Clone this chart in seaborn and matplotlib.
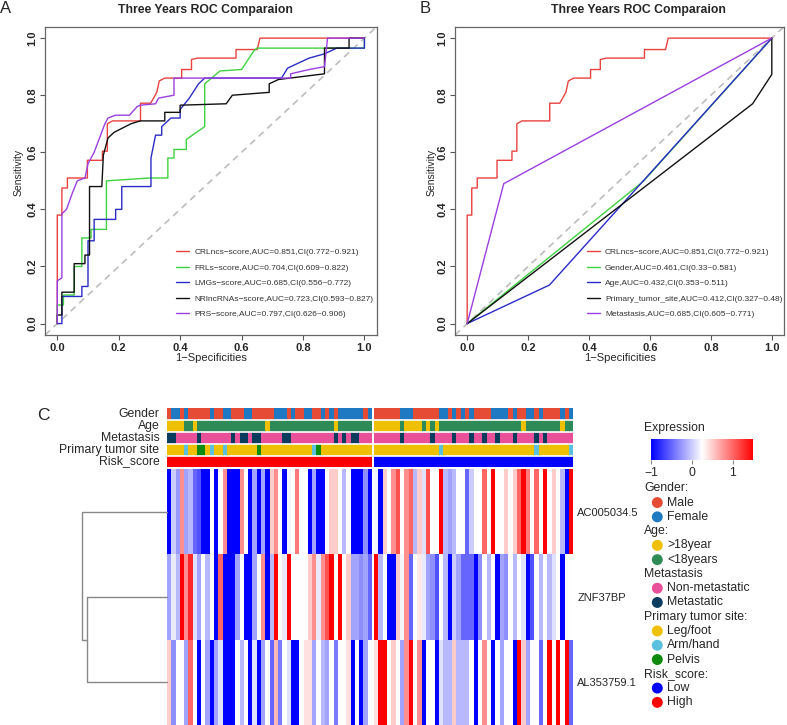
import numpy as np
import pandas as pd
import matplotlib
matplotlib.use("Agg")
import matplotlib.pyplot as plt
from matplotlib.colors import ListedColormap, LinearSegmentedColormap
import seaborn as sns

W, H = 787, 725

# ---------------- ROC curves: (1 - specificity, sensitivity) ----------------
crl_fpr = [0, 0, 0.015, 0.015, 0.033, 0.033, 0.098, 0.098, 0.147, 0.147,
           0.163, 0.163, 0.18, 0.271, 0.271, 0.304, 0.324, 0.332, 0.35, 0.405,
           0.405, 0.437, 0.437, 0.456, 0.582, 0.582, 0.651, 0.66, 1.0]
crl_tpr = [0, 0.38, 0.38, 0.475, 0.475, 0.51, 0.51, 0.572, 0.572, 0.604,
           0.604, 0.70, 0.71, 0.71, 0.772, 0.772, 0.81, 0.85, 0.86, 0.86,
           0.89, 0.89, 0.925, 0.93, 0.93, 0.96, 0.96, 1.0, 1.0]

frl_fpr = [0, 0, 0.02, 0.02, 0.055, 0.055, 0.08, 0.08, 0.11, 0.11,
           0.16, 0.16, 0.30, 0.36, 0.36, 0.38, 0.38, 0.42, 0.42, 0.48,
           0.48, 0.53, 0.60, 0.64, 0.65, 1.0, 1.0]
frl_tpr = [0, 0.065, 0.065, 0.10, 0.10, 0.20, 0.20, 0.30, 0.30, 0.33,
           0.33, 0.50, 0.51, 0.51, 0.58, 0.58, 0.61, 0.61, 0.645, 0.69,
           0.84, 0.885, 0.89, 0.955, 0.965, 0.965, 1.0]

lmg_fpr = [0, 0.015, 0.015, 0.08, 0.08, 0.10, 0.10, 0.12, 0.12, 0.19,
           0.19, 0.21, 0.21, 0.305, 0.305, 0.32, 0.34, 0.34, 0.37, 0.40,
           0.40, 0.43, 0.46, 0.48, 0.73, 0.75, 0.82, 0.87, 0.91, 1.0, 1.0]
lmg_tpr = [0, 0, 0.095, 0.095, 0.13, 0.13, 0.29, 0.29, 0.365, 0.365,
           0.40, 0.40, 0.48, 0.48, 0.58, 0.66, 0.66, 0.69, 0.72, 0.72,
           0.75, 0.79, 0.84, 0.86, 0.86, 0.895, 0.93, 0.945, 0.965, 0.965, 1.0]

nrl_fpr = [0, 0, 0.015, 0.015, 0.055, 0.055, 0.09, 0.09, 0.105, 0.105,
           0.145, 0.15, 0.165, 0.185, 0.24, 0.27, 0.35, 0.35, 0.40, 0.40,
           0.55, 0.57, 0.69, 0.69, 0.72, 0.87, 0.87, 0.95, 0.95, 1.0]
nrl_tpr = [0, 0.03, 0.03, 0.11, 0.11, 0.21, 0.21, 0.24, 0.24, 0.48,
           0.48, 0.59, 0.65, 0.67, 0.70, 0.71, 0.71, 0.74, 0.74, 0.765,
           0.77, 0.80, 0.81, 0.84, 0.855, 0.875, 0.965, 0.965, 1.0, 1.0]

prs_fpr = [0, 0, 0.015, 0.015, 0.03, 0.05, 0.065, 0.09, 0.10, 0.12,
           0.155, 0.165, 0.19, 0.235, 0.26, 0.27, 0.32, 0.33, 0.38, 0.38,
           0.76, 0.76, 0.82, 0.87, 0.88, 1.0]
prs_tpr = [0, 0.15, 0.16, 0.385, 0.40, 0.46, 0.50, 0.51, 0.56, 0.60,
           0.70, 0.72, 0.73, 0.73, 0.76, 0.765, 0.77, 0.79, 0.80, 0.86,
           0.86, 0.875, 0.89, 0.90, 1.0, 1.0]

gender_fpr, gender_tpr = [0, 0.58, 1.0], [0, 0.50, 1.0]
age_fpr, age_tpr = [0, 0.27, 1.0], [0, 0.135, 1.0]
site_fpr, site_tpr = [0, 0.937, 1.0, 1.0], [0, 0.77, 0.873, 1.0]
meta_fpr, meta_tpr = [0, 0.12, 1.0], [0, 0.49, 1.0]

labels_a = ["CRLncs−score,AUC=0.851,CI(0.772~0.921)",
            "FRLs−score,AUC=0.704,CI(0.609~0.822)",
            "LMGs−score,AUC=0.685,CI(0.556~0.772)",
            "NRlncRNAs−score,AUC=0.723,CI(0.593~0.827)",
            "PRS−score,AUC=0.797,CI(0.626~0.906)"]
labels_b = ["CRLncs−score,AUC=0.851,CI(0.772~0.921)",
            "Gender,AUC=0.461,CI(0.33~0.581)",
            "Age,AUC=0.432,CI(0.353~0.511)",
            "Primary_tumor_site,AUC=0.412,CI(0.327~0.48)",
            "Metastasis,AUC=0.685,CI(0.605~0.771)"]
roc_colors = ["#E8423F", "#3FD23F", "#2B2BC8", "#111111", "#9B3FE0"]

# ---------------- heatmap data ----------------
genes = ["AC005034.5", "ZNF37BP", "AL353759.1"]
groups = ["High", "Low"]

ac_hi = [-1.0, 0.0, -0.25, 0.8, -0.2, -0.1, -0.5, -0.6, -1.0, -1.0,
         0.25, -1.0, 0.25, 0.8, -1.0, -1.0, -1.0, 0.8, 0.25, -1.0,
         -0.2, -1.0, -0.2, -1.0, 0.5, 0.8, 0.25, -1.0, 0.2, 0.25,
         0.9, 0.25, 0.25, -1.0, -0.2, -1.0, -1.0, 0.25, 0.5, 0.5,
         0.25, -0.1, 0.25, -1.0, -1.0, -1.0, -0.3, -1.0]
znf_hi = [-0.2, 0.15, -0.1, 1.5, 0.8, 1.3, 0.1, -0.2, 0.25, -0.1,
          0.25, -1.0, 1.0, -1.0, -1.0, -1.0, -0.2, 0.25, -1.0, -1.0,
          -0.2, 0.25, 0.8, -1.0, -0.1, 1.5, 0.25, 0.15, 1.5, 0.25,
          0.25, 0.25, 0.25, 0.5, 0.8, 0.15, 0.8, 1.1, 1.5, 0.25,
          1.5, 0.25, 0.5, -0.2, -0.2, -0.3, -0.2, -0.5]
al_hi = [0.5, -0.3, 0.25, 0.25, -0.2, 1.0, 0.25, -1.0, 0.25, -0.2,
         -1.0, -0.2, 0.1, -1.0, -1.0, -1.0, 0.25, -0.1, 0.25, -1.0,
         0.1, -1.0, -0.2, 0.25, -0.5, 0.6, -0.4, 0.25, 0.1, -1.0,
         -1.0, 0.25, 0.4, 0.4, -0.2, 0.25, -0.1, -0.2, 0.25, -0.4,
         0.25, 0.25, 0.4, -1.0, 0.25, -1.0, -0.2, 0.25]

ac_lo = [0.2, -1.0, 0.5, 0.25, 0.8, 1.1, 0.25, 0.8, 1.0, -0.1,
         0.5, 0.1, 1.1, 0.25, 0.25, 1.5, -0.1, -0.2, -0.1, 0.25,
         0.25, -0.5, 0.0, 0.25, 0.25, 1.0, 0.25, 1.5, 0.25, 0.25,
         0.5, 0.25, 0.5, 1.0, 1.5, 0.9, 0.25, 1.0, 0.25, 1.5,
         0.25, 0.5, 0.25, -0.1, -1.0, 1.5]
znf_lo = [1.5, -0.1, 0.25, -1.0, -1.0, 0.5, 0.2, 0.8, -0.5, 0.25,
          0.35, 0.15, -0.2, -0.3, -0.6, 0.25, -0.1, -1.0, 0.0, -0.2,
          -0.5, -0.5, -0.5, -1.0, -0.3, 0.25, -0.1, 0.25, -1.0, -0.2,
          -0.3, 0.25, -0.1, 0.25, 0.1, -1.0, -0.6, 0.25, -0.1, 0.25,
          -0.1, 0.1, 0.25, -1.0, 0.25, 0.25]
al_lo = [0.4, 1.5, 1.5, 0.25, 0.5, 0.25, -0.2, 0.8, 1.5, 0.25,
         0.8, -1.0, 0.25, 0.25, -1.0, 0.1, -0.1, -0.1, 0.5, -0.1,
         -0.1, -0.1, 0.25, -1.0, 0.25, 0.8, 0.25, -1.0, 0.25, -0.2,
         0.25, 0.25, -1.0, 1.5, 0.5, -0.2, 0.25, 0.25, -0.5, 0.25,
         1.5, 0.25, 1.5, 0.25, 1.5, -0.5]

# annotations, one letter per sample
# gender M/F, age Y(>18)/G(<18), metastasis P(non)/N(metastatic), site L/A/V(pelvis)
gender_hi = "MFFMFMMMMMFMMFFMMMFFMMMMMFFFMFMMFFMMFMFMFFFFFFMF"
age_hi = "YYYYGGYGGGGGGGGGGGGGGGGYGGGGGGGGGGGGGGGYGGGGGGGG"
meta_hi = "NNPPPPPNPPPPPPPNPNNPNNPPPPPNNPPPPPPPPPPNPNPNNPPP"
site_hi = "LLLLALLVVLALLALLLLLLLVLLLLLLLLLLLLAVLLLLLLLLLLLL"
gender_lo = "MMMMMMFFFMMMMMMFFMFMFMFMMMMFFFFMFMMFFMFMMMMFMF"
age_lo = "YYYYYYGYYYYGYGYGGGGGGGGGGGGGGGGGGGYGGGGGGGGYGG"
meta_lo = "PPPPPPNPPPPPPNPPPPNPPPNPPNPPNPPPNPPPPNPNPPPPPP"
site_lo = "LLLLLLLLLLLLLLLALLLLLLLLLLLLLLLLLLLLLALLLLLLLA"

ann_rows = ["Gender", "Age", "Metastasis", "Primary tumor site", "Risk_score"]
legend_groups = [("Gender:", ["Male", "Female"]),
                 ("Age:", [">18year", "<18years"]),
                 ("Metastasis", ["Non-metastatic", "Metastatic"]),
                 ("Primary tumor site:", ["Leg/foot", "Arm/hand", "Pelvis"]),
                 ("Risk_score:", ["Low", "High"])]
level_colors = {"Male": "#E64B35", "Female": "#1E78C2",
                ">18year": "#EFC000", "<18years": "#2E8B57",
                "Non-metastatic": "#E8509A", "Metastatic": "#0B3C5D",
                "Leg/foot": "#EFC000", "Arm/hand": "#5BC0DE", "Pelvis": "#0E8A0E",
                "Low": "#0000FF", "High": "#FF0000"}
codes = {"gender": {"M": "Male", "F": "Female"},
         "age": {"Y": ">18year", "G": "<18years"},
         "meta": {"P": "Non-metastatic", "N": "Metastatic"},
         "site": {"L": "Leg/foot", "A": "Arm/hand", "V": "Pelvis"}}

# merge heights of the gene dendrogram
merge_inner, merge_outer = 5.9, 6.3

# ---------------- style ----------------
sns.set_style("white")
plt.rcParams["font.family"] = ["Liberation Sans", "DejaVu Sans"]

fig = plt.figure(figsize=(W / 100, H / 100), dpi=100)


def rect(l, t, r, b):
    return [l / W, 1 - b / H, (r - l) / W, (b - t) / H]


def roc_panel(box, curves, labels, leg_anchor):
    ax = fig.add_axes(box)
    ax.axline((0, 0), (1, 1), ls=(0, (4, 3)), color="#BDBDBD", lw=1.2, zorder=1)
    for (fpr, tpr), lab, col in zip(curves, labels, roc_colors):
        sns.lineplot(x=fpr, y=tpr, sort=False, estimator=None, color=col,
                     lw=1, ax=ax, label=lab)
    ax.set_xlim(-0.04, 1.04)
    ax.set_ylim(-0.04, 1.04)
    ticks = [0, 0.2, 0.4, 0.6, 0.8, 1.0]
    ax.set_xticks(ticks)
    ax.set_yticks(ticks)
    ax.set_xticklabels([f"{t:.1f}" for t in ticks], fontweight="bold")
    ax.set_yticklabels([f"{t:.1f}" for t in ticks], fontweight="bold",
                       rotation=90, va="center")
    ax.tick_params(bottom=True, left=True, direction="out", length=3.6,
                   width=0.8, color="#555555", labelsize=8, pad=2)
    for s in ax.spines.values():
        s.set_color("#666666")
        s.set_linewidth(0.9)
    ax.set_xlabel("")
    ax.set_ylabel("")
    ax.legend(loc="lower left", bbox_to_anchor=leg_anchor, frameon=False,
              fontsize=6, handlelength=1.6, handletextpad=0.6,
              labelspacing=0.92, borderpad=0, borderaxespad=0,
              labelcolor="#333333")
    return ax


ax_a = roc_panel(rect(45, 26.7, 376.7, 335),
                 [(crl_fpr, crl_tpr), (frl_fpr, frl_tpr), (lmg_fpr, lmg_tpr),
                  (nrl_fpr, nrl_tpr), (prs_fpr, prs_tpr)],
                 labels_a, (0.395, 0.055))
ax_b = roc_panel(rect(455, 26.7, 784, 335),
                 [(crl_fpr, crl_tpr), (gender_fpr, gender_tpr), (age_fpr, age_tpr),
                  (site_fpr, site_tpr), (meta_fpr, meta_tpr)],
                 labels_b, (0.4, 0.055))

# ---------------- heatmap panel ----------------
cmap = LinearSegmentedColormap.from_list("expr", ["#0000FF", "#FFFFFF", "#FF0000"])
level_list = list(level_colors.keys())
ann_cmap = ListedColormap([level_colors[k] for k in level_list])


def ann_matrix(gender, age, meta, site, risk):
    rows = [[codes["gender"][c] for c in gender],
            [codes["age"][c] for c in age],
            [codes["meta"][c] for c in meta],
            [codes["site"][c] for c in site],
            [risk] * len(gender)]
    return pd.DataFrame([[level_list.index(v) for v in r] for r in rows], index=ann_rows)


halves = [
    (167, 372, pd.DataFrame([ac_hi, znf_hi, al_hi], index=genes),
     ann_matrix(gender_hi, age_hi, meta_hi, site_hi, groups[0])),
    (374, 573.3, pd.DataFrame([ac_lo, znf_lo, al_lo], index=genes),
     ann_matrix(gender_lo, age_lo, meta_lo, site_lo, groups[1])),
]

hm_axes = []
for i, (l, r, expr, ann) in enumerate(halves):
    ax_ann = fig.add_axes(rect(l, 408, r, 467.5))
    sns.heatmap(ann, cmap=ann_cmap, vmin=-0.5, vmax=len(level_list) - 0.5,
                cbar=False, xticklabels=False, yticklabels=(i == 0), ax=ax_ann)
    for y in range(1, len(ann_rows)):
        ax_ann.axhline(y, color="white", lw=1.2)
    ax_ann.tick_params(axis="y", length=0, pad=5.5, labelsize=8.8)
    if i == 0:
        ax_ann.set_yticklabels(ann_rows, rotation=0)

    ax_hm = fig.add_axes(rect(l, 469, r, 725))
    sns.heatmap(expr, cmap=cmap, vmin=-1, vmax=1.5, cbar=False,
                xticklabels=False, yticklabels=(i == 1), ax=ax_hm)
    if i == 1:
        ax_hm.yaxis.tick_right()
        ax_hm.set_yticklabels(genes, rotation=0)
        ax_hm.tick_params(axis="y", length=0, pad=3, labelsize=8)
    hm_axes.append(ax_hm)

# dendrogram of genes (leaf 0 joins the pair 1-2)
ax_d = fig.add_axes(rect(81.7, 469, 167, 725))
leaf_y = [0.5, 1.5, 2.5]
pair_y = (leaf_y[1] + leaf_y[2]) / 2
dcol = "#888888"
ax_d.plot([0, merge_inner, merge_inner, 0], [leaf_y[1], leaf_y[1], leaf_y[2], leaf_y[2]],
          color=dcol, lw=1, clip_on=False)
ax_d.plot([merge_inner, merge_outer, merge_outer, 0], [pair_y, pair_y, leaf_y[0], leaf_y[0]],
          color=dcol, lw=1, clip_on=False)
ax_d.set_xlim(merge_outer, 0)
ax_d.set_ylim(3, 0)
ax_d.axis("off")

# colour bar
cax = fig.add_axes(rect(651, 439.3, 753.3, 460))
cb = fig.colorbar(hm_axes[0].collections[0], cax=cax, orientation="horizontal",
                  ticks=[-1, 0, 1])
cb.outline.set_visible(False)
cax.tick_params(labelsize=8.8, length=3, color="#888888", pad=2)

# ---------------- overlay: letters, titles, legends ----------------
ov = fig.add_axes([0, 0, 1, 1])
ov.set_xlim(0, W)
ov.set_ylim(H, 0)
ov.axis("off")

ov.text(6, 8, "A", fontsize=12, ha="center", va="center")
ov.text(425, 8, "B", fontsize=12, ha="center", va="center")
ov.text(43, 415, "C", fontsize=12.5, ha="center", va="center")
for cx in (205, 638.7):
    ov.text(cx, 9.5, "Three Years ROC Comparaion", fontsize=8.8, fontweight="bold",
            ha="center", va="center")
for cx in (18.3, 431.7):
    ov.text(cx, 172, "Sensitivity", fontsize=7.5, rotation=90, ha="center", va="center")
for cx in (211, 620):
    ov.text(cx, 358, "1−Specificities", fontsize=8, ha="center", va="center")

ov.text(644.3, 428, "Expression", fontsize=8.8, ha="left", va="center")
k = 0
for title, levels in legend_groups:
    ov.text(644.3, 488.3 + 14.27 * k, title, fontsize=8.8, ha="left", va="center")
    k += 1
    for lev in levels:
        y = 488.3 + 14.27 * k
        ov.scatter([657.3], [y], s=62, color=level_colors[lev], edgecolors="none")
        ov.text(667.3, y, lev, fontsize=8.8, ha="left", va="center")
        k += 1

fig.savefig("out.png", dpi=100)
